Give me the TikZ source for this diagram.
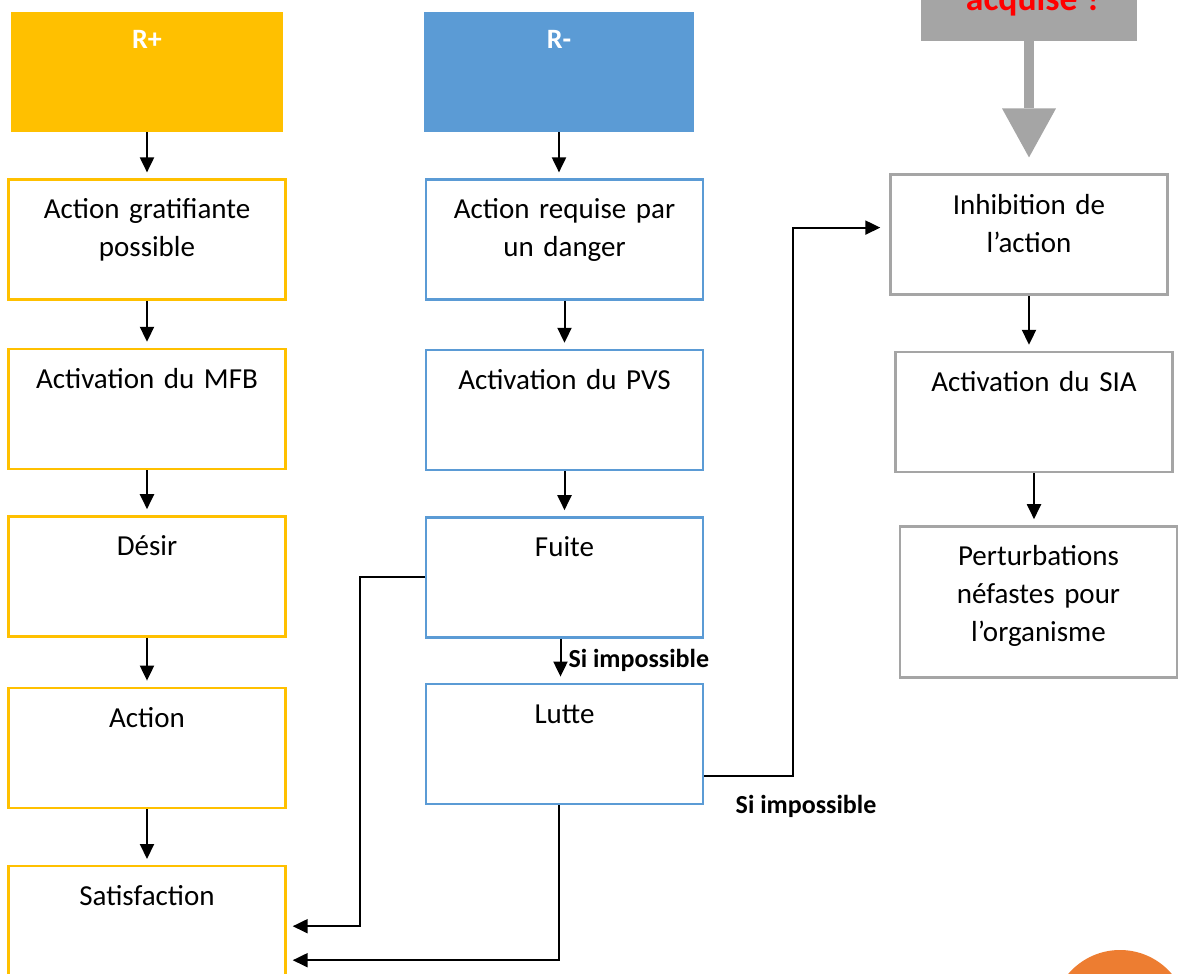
\documentclass[tikz,border=0pt]{standalone}
\usepackage{fontspec}
\setmainfont{Carlito}
\usetikzlibrary{arrows.meta, positioning}
\definecolor{rplus}{HTML}{FFC000}
\definecolor{rmoins}{HTML}{5B9BD5}
\definecolor{grisc}{HTML}{A5A5A5}
\definecolor{pastille}{HTML}{ED7D31}

\begin{document}
\begin{tikzpicture}[
  x=0.5pt, y=-0.5pt,
  every node/.style={font=\fontsize{14.5pt}{19pt}\selectfont},
  head/.style={
    minimum width=136pt, minimum height=60pt, inner sep=0pt,
    text width=130pt, align=center, text=white,
    font=\fontsize{14pt}{17pt}\selectfont\bfseries,
    text height=18.5pt, text depth=41.5pt
  },
  box/.style={
    draw, fill=white, line width=1.2pt,
    minimum width=138.5pt, minimum height=60pt, inner sep=0pt,
    text width=134pt, align=center,
    text height=19.7pt, text depth=40.3pt
  },
  arrow/.style={-{Triangle[length=7.5pt, width=7pt]}, line width=1pt, shorten >=3pt},
  lbl/.style={font=\fontsize{13pt}{15pt}\selectfont\bfseries, inner sep=0pt}
]
  \useasboundingbox (0,0) rectangle (1184,974);

  % Colonne R+
  \node[head, fill=rplus] (rp) at (147,72) {R+};
  \node[box, draw=rplus, below=23pt of rp] (grat) {Action gratifiante\\ possible};
  \node[box, draw=rplus, below=23.5pt of grat] (mfb) {Activation du MFB};
  \node[box, draw=rplus, below=22.5pt of mfb] (desir) {Désir};
  \node[box, draw=rplus, below=24.5pt of desir] (action) {Action};
  \node[box, draw=rplus, below=28pt of action] (satis) {Satisfaction};

  % Colonne R-
  \node[head, fill=rmoins, minimum width=135pt] (rm) at (559,72) {R-};
  \node[box, draw=rmoins, below=23pt of rm, xshift=2.75pt] (danger) {Action requise par\\ un danger};
  \node[box, draw=rmoins, below=24pt of danger] (pvs) {Activation du PVS};
  \node[box, draw=rmoins, below=22.5pt of pvs] (fuite) {Fuite};
  \node[box, draw=rmoins, below=22pt of fuite] (lutte) {Lutte};

  % Colonne de droite
  \node[fill=grisc, minimum width=108pt, minimum height=60pt] (acq) at (1029,-19) {};
  \node[font=\fontsize{17.8pt}{20pt}\selectfont\bfseries, text=red, anchor=base] (acqtxt) at (1034,10.5) {acquise ?};
  \node[box, draw=grisc, below=66pt of acq] (inhib) {Inhibition de\\ l’action};
  \node[box, draw=grisc, below=27.5pt of inhib, xshift=2.5pt] (sia) {Activation du SIA};
  \node[box, draw=grisc, below=26pt of sia, xshift=2.25pt, minimum height=75.5pt, text depth=55.8pt] (pert) {Perturbations\\ néfastes pour\\ l’organisme};

  % Grosse flèche grise
  \draw[line width=5pt, grisc, -{Triangle[length=24.5pt, width=27pt, line width=0pt]}]
    (acq.south) -- ([yshift=8pt]acq.south |- inhib.north);

  % Flèches verticales
  \draw[arrow] (rp) -- (rp |- grat.north);
  \draw[arrow] (grat) -- (grat |- mfb.north);
  \draw[arrow] (mfb) -- (mfb |- desir.north);
  \draw[arrow] (desir) -- (desir |- action.north);
  \draw[arrow] (action) -- (action |- satis.north);

  \draw[arrow] (rm) -- (rm |- danger.north);
  \draw[arrow] (danger) -- (danger |- pvs.north);
  \draw[arrow] (pvs) -- (pvs |- fuite.north);
  \draw[arrow] ([xshift=-2pt]fuite.south) -- ([xshift=-2pt]fuite.south |- lutte.north)
    node[lbl, midway, right=3.5pt] (si1) {Si impossible};

  \draw[arrow] (inhib) -- (inhib |- sia.north);
  \draw[arrow] (sia) -- (sia |- pert.north);

  % Retours vers Satisfaction
  \draw[arrow] (fuite.west) -- ++(-65,0) |- (satis.east);
  \draw[arrow] ([xshift=-3pt]lutte.south) |- ([yshift=-17pt]satis.east);

  % Lutte impossible : inhibition
  \draw[arrow, shorten >=4.5pt] ([yshift=-16pt]lutte.east) -- ++(89,0) |- ([yshift=3.5pt]inhib.west);
  \node[lbl, anchor=base] (si2) at (806,813) {Si impossible};

  % Pastille orange
  \fill[pastille] (1120,1018) circle[radius=34pt];

\end{tikzpicture}
\end{document}
